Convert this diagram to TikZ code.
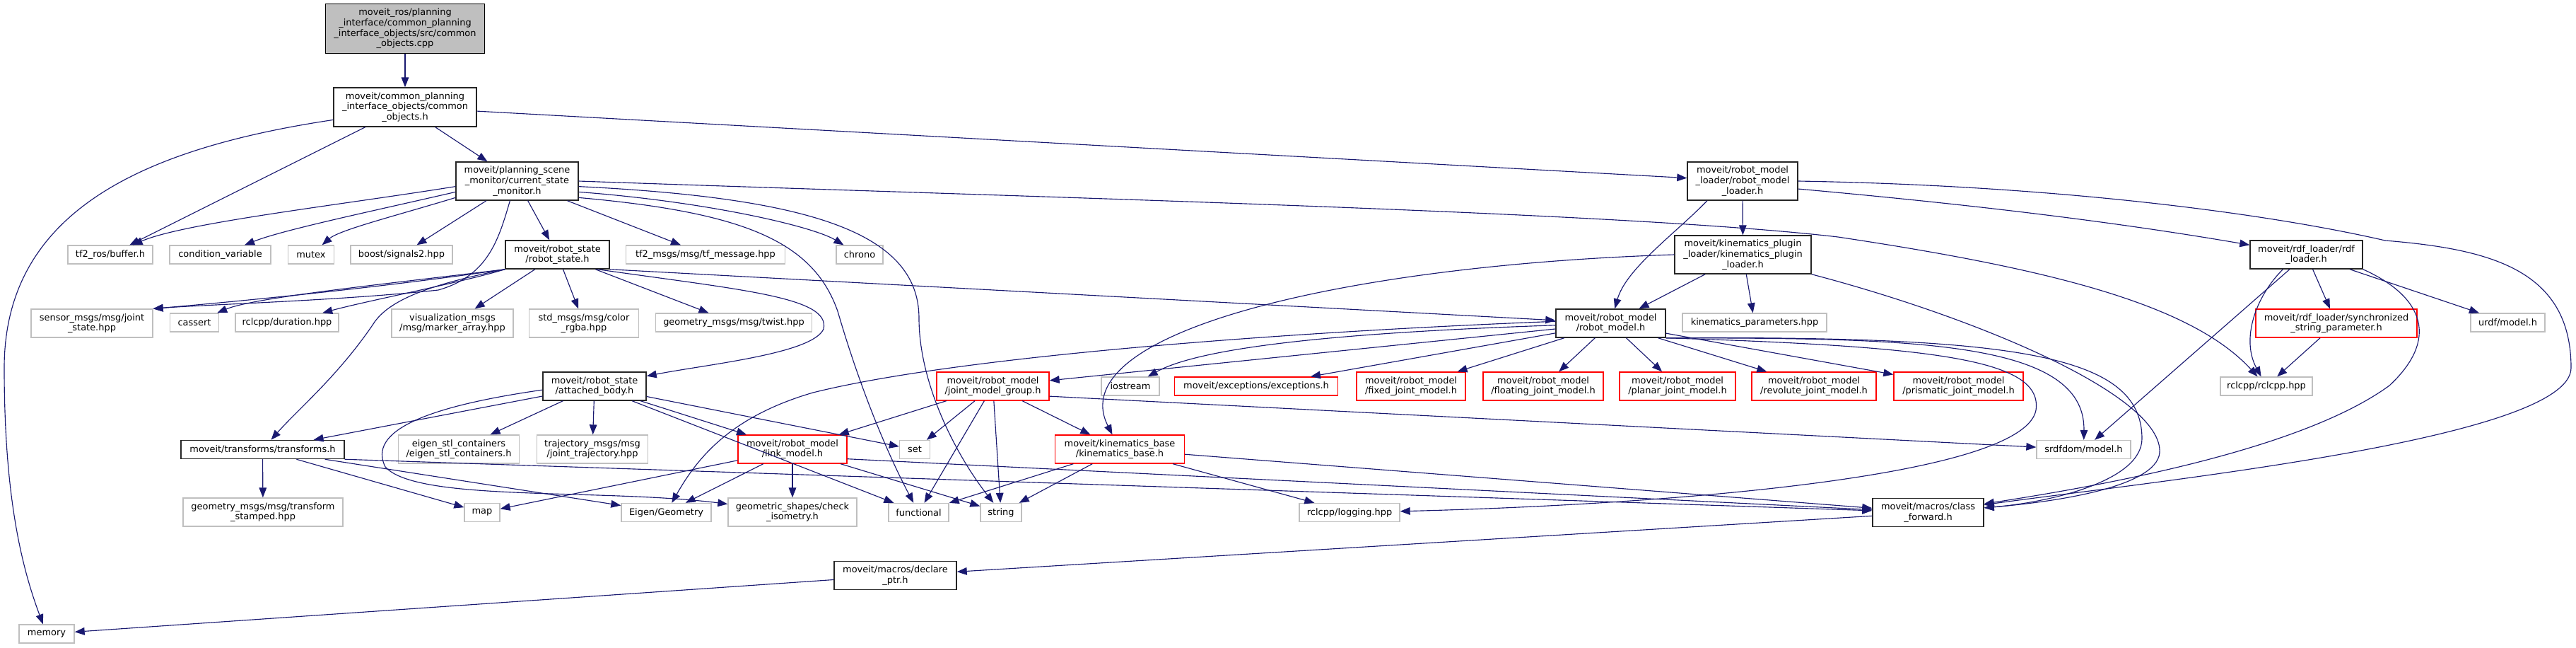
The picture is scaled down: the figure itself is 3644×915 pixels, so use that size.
\documentclass[tikz,border=0pt]{standalone}
\usepackage{fontspec}
\setmainfont{DejaVu Sans}
\usepackage{xcolor}
\usepackage{tikz}
\usetikzlibrary{arrows.meta}

\definecolor{midnight}{HTML}{191970}
\definecolor{boxgray}{HTML}{BFBFBF}
\tikzset{wh/.style 2 args={minimum width=#1*0.75pt, minimum height=#2*0.75pt}}

\begin{document}
\begin{tikzpicture}[x=0.75pt, y=-0.75pt, >={Triangle[length=10.5pt, width=8pt]},
  every node/.style={font=\fontsize{9.7}{11}\selectfont, align=center, inner sep=0pt},
  srcfile/.style={draw=black, fill=boxgray, line width=1pt},
  hdr/.style={draw=black!85, fill=white, line width=1.1pt},
  trunc/.style={draw=red, fill=white, line width=1pt},
  sysinc/.style={draw=boxgray, fill=white, line width=1pt},
  dep/.style={->, draw=midnight, line width=0.85pt}]
\useasboundingbox (0,0) rectangle (3644,915);

% Source file and its direct headers
\node[srcfile, wh={225}{70}] (root) at (573,40.5) {moveit\_ros/planning\\\_interface/common\_planning\\\_interface\_objects/src/common\\\_objects.cpp};
\node[hdr, wh={202}{55}] (coh) at (573,151.5) {moveit/common\_planning\\\_interface\_objects/common\\\_objects.h};
\node[hdr, wh={173}{54}] (csm) at (731.5,256) {moveit/planning\_scene\\\_monitor/current\_state\\\_monitor.h};
\node[hdr, wh={156}{54}] (rml) at (2465,256) {moveit/robot\_model\\\_loader/robot\_model\\\_loader.h};

% Rank 3
\node[sysinc, wh={120}{26}] (tf2buf) at (156,360) {tf2\_ros/buffer.h};
\node[sysinc, wh={143}{26}] (condvar) at (311.5,360) {condition\_variable};
\node[sysinc, wh={65}{26}] (mutex) at (440,360) {mutex};
\node[sysinc, wh={144}{26}] (signals) at (568,360) {boost/signals2.hpp};
\node[hdr, wh={147}{40}] (rstate) at (788.5,360) {moveit/robot\_state\\/robot\_state.h};
\node[sysinc, wh={225}{26}] (tfmsg) at (998,360) {tf2\_msgs/msg/tf\_message.hpp};
\node[sysinc, wh={66}{26}] (chrono) at (1216,360) {chrono};
\node[hdr, wh={193}{54}] (kpl) at (2465.5,360) {moveit/kinematics\_plugin\\\_loader/kinematics\_plugin\\\_loader.h};
\node[hdr, wh={159}{40}] (rdf) at (3262.5,360) {moveit/rdf\_loader/rdf\\\_loader.h};

% Rank 4
\node[sysinc, wh={172}{40}] (sensor) at (130,457) {sensor\_msgs/msg/joint\\\_state.hpp};
\node[sysinc, wh={69}{26}] (cassert) at (275,456) {cassert};
\node[sysinc, wh={146}{26}] (duration) at (406,456) {rclcpp/duration.hpp};
\node[sysinc, wh={172}{40}] (marker) at (640,457) {visualization\_msgs\\/msg/marker\_array.hpp};
\node[sysinc, wh={155}{40}] (color) at (826,457) {std\_msgs/msg/color\\\_rgba.hpp};
\node[sysinc, wh={221}{26}] (twist) at (1038,456) {geometry\_msgs/msg/twist.hpp};
\node[hdr, wh={155}{40}] (rmodel) at (2278.5,457) {moveit/robot\_model\\/robot\_model.h};
\node[sysinc, wh={204}{26}] (kparams) at (2482,456) {kinematics\_parameters.hpp};
\node[trunc, wh={228}{40}] (syncpar) at (3305,457) {moveit/rdf\_loader/synchronized\\\_string\_parameter.h};
\node[sysinc, wh={105}{26}] (urdf) at (3547.5,456) {urdf/model.h};

% Rank 5
\node[hdr, wh={146}{40}] (attached) at (841,546) {moveit/robot\_state\\/attached\_body.h};
\node[trunc, wh={159}{40}] (jmg) at (1404.5,546) {moveit/robot\_model\\/joint\_model\_group.h};
\node[sysinc, wh={82}{26}] (iostream) at (1599,546) {iostream};
\node[trunc, wh={231}{26}] (except) at (1777,546) {moveit/exceptions/exceptions.h};
\node[trunc, wh={154}{40}] (fixedjm) at (1996,546) {moveit/robot\_model\\/fixed\_joint\_model.h};
\node[trunc, wh={170}{40}] (floatjm) at (2183,546) {moveit/robot\_model\\/floating\_joint\_model.h};
\node[trunc, wh={164}{40}] (planarjm) at (2373,546) {moveit/robot\_model\\/planar\_joint\_model.h};
\node[trunc, wh={176}{40}] (revjm) at (2566,546) {moveit/robot\_model\\/revolute\_joint\_model.h};
\node[trunc, wh={183}{40}] (prisjm) at (2770.5,546) {moveit/robot\_model\\/prismatic\_joint\_model.h};
\node[sysinc, wh={130}{26}] (rclcpp) at (3206,546) {rclcpp/rclcpp.hpp};

% Rank 6
\node[hdr, wh={231}{26}] (transforms) at (371.5,635.5) {moveit/transforms/transforms.h};
\node[sysinc, wh={171}{40}] (eigenstl) at (649,635) {eigen\_stl\_containers\\/eigen\_stl\_containers.h};
\node[sysinc, wh={157}{40}] (traj) at (838,635) {trajectory\_msgs/msg\\/joint\_trajectory.hpp};
\node[trunc, wh={154}{40}] (link) at (1121,635) {moveit/robot\_model\\/link\_model.h};
\node[sysinc, wh={43}{26}] (set) at (1294,635.5) {set};
\node[trunc, wh={183}{40}] (kbase) at (1584,635) {moveit/kinematics\_base\\/kinematics\_base.h};
\node[sysinc, wh={133}{26}] (srdf) at (2947.5,635.5) {srdfdom/model.h};

% Rank 7
\node[sysinc, wh={226}{40}] (tstamped) at (372,724) {geometry\_msgs/msg/transform\\\_stamped.hpp};
\node[sysinc, wh={50}{26}] (map) at (682,724.5) {map};
\node[sysinc, wh={127}{26}] (eigen) at (942.5,724.5) {Eigen/Geometry};
\node[sysinc, wh={182}{40}] (isometry) at (1121,724) {geometric\_shapes/check\\\_isometry.h};
\node[sysinc, wh={85}{26}] (functional) at (1299.5,724.5) {functional};
\node[sysinc, wh={58}{26}] (string) at (1416,724.5) {string};
\node[sysinc, wh={142}{26}] (logging) at (1909,724.5) {rclcpp/logging.hpp};
\node[hdr, wh={157}{40}] (cfwd) at (2727.5,724.5) {moveit/macros/class\\\_forward.h};

% Bottom ranks
\node[hdr, wh={173}{40}] (declptr) at (1266.5,813.5) {moveit/macros/declare\\\_ptr.h};
\node[sysinc, wh={78}{26}] (memory) at (66,896) {memory};

% Edges from the source and common_objects.h
\draw[dep] (root) -- (coh);
\draw[dep] (coh) -- (csm);
\draw[dep] (coh) -- (tf2buf);
\draw[dep] (coh) -- (rml);
\draw[dep] (coh.190) .. controls (200,210) and (6,300) .. (6,520) .. controls (6,700) and (30,800) .. (memory);

% current_state_monitor.h
\draw[dep] (csm.185) .. controls (480,290) and (260,315) .. (tf2buf);
\draw[dep] (csm.190) .. controls (520,300) and (400,325) .. (condvar);
\draw[dep] (csm.195) .. controls (560,305) and (480,325) .. (mutex);
\draw[dep] (csm) -- (signals);
\draw[dep] (csm) -- (rstate);
\draw[dep] (csm) -- (tfmsg);
\draw[dep] (csm.350) .. controls (1000,285) and (1150,320) .. (chrono);
\draw[dep] (csm.250) .. controls (705,340) and (690,390) .. (620,410) .. controls (480,425) and (300,430) .. (sensor.north east);
\draw[dep] (csm.345) .. controls (1050,300) and (1150,340) .. (1185,440) .. controls (1220,560) and (1260,650) .. (functional);
\draw[dep] (csm.355) .. controls (1150,280) and (1300,330) .. (1300,450) .. controls (1300,540) and (1350,640) .. (string);
\draw[dep] (csm.east) .. controls (1500,280) and (2300,300) .. (2600,335) .. controls (2900,380) and (3100,430) .. (rclcpp);

% robot_state.h
\draw[dep] (rstate.south west) .. controls (550,405) and (350,425) .. (sensor.north east);
\draw[dep] (rstate.south west) .. controls (560,400) and (360,420) .. (cassert);
\draw[dep] (rstate.south west) .. controls (650,400) and (520,425) .. (duration);
\draw[dep] (rstate.south west) .. controls (620,400) and (555,420) .. (530,455) .. controls (480,530) and (420,580) .. (transforms);
\draw[dep] (rstate) -- (marker);
\draw[dep] (rstate) -- (color);
\draw[dep] (rstate) -- (twist);
\draw[dep] (rstate.south east) -- (rmodel);
\draw[dep] (rstate.-20) .. controls (1050,410) and (1175,420) .. (1165,465) .. controls (1150,500) and (1000,515) .. (attached);

% attached_body.h
\draw[dep] (attached) -- (transforms);
\draw[dep] (attached) -- (eigenstl);
\draw[dep] (attached) -- (traj);
\draw[dep] (attached) -- (link);
\draw[dep] (attached) -- (set);
\draw[dep] (attached) -- (functional);
\draw[dep] (attached.184) .. controls (600,575) and (520,610) .. (545,660) .. controls (590,710) and (850,690) .. (isometry);

% transforms.h
\draw[dep] (transforms) -- (tstamped);
\draw[dep] (transforms) -- (map);
\draw[dep] (transforms) -- (eigen);
\draw[dep] (transforms.south east) -- (cfwd);

% link_model.h
\draw[dep] (link) -- (map);
\draw[dep] (link) -- (eigen);
\draw[dep] (link) -- (isometry);
\draw[dep] (link) -- (string);
\draw[dep] (link.-10) -- (cfwd);

% joint_model_group.h
\draw[dep] (jmg) -- (link);
\draw[dep] (jmg) -- (set);
\draw[dep] (jmg) -- (functional);
\draw[dep] (jmg) -- (string);
\draw[dep] (jmg) -- (kbase);
\draw[dep] (jmg.-10) -- (srdf);

% kinematics_base.h
\draw[dep] (kbase) -- (functional);
\draw[dep] (kbase) -- (string);
\draw[dep] (kbase) -- (logging);
\draw[dep] (kbase) -- (cfwd);

% robot_model.h
\draw[dep] (rmodel) -- (jmg);
\draw[dep] (rmodel.182) .. controls (1900,470) and (1700,490) .. (iostream);
\draw[dep] (rmodel) -- (except);
\draw[dep] (rmodel) -- (fixedjm);
\draw[dep] (rmodel) -- (floatjm);
\draw[dep] (rmodel) -- (planarjm);
\draw[dep] (rmodel) -- (revjm);
\draw[dep] (rmodel) -- (prisjm);
\draw[dep] (rmodel.south east) .. controls (2700,478) and (2950,480) .. (srdf);
\draw[dep] (rmodel.south east) .. controls (2850,475) and (3030,500) .. (3030,620) .. controls (3030,680) and (2900,710) .. (cfwd);
\draw[dep] (rmodel.south east) .. controls (2750,490) and (2890,510) .. (2880,580) .. controls (2860,680) and (2300,715) .. (logging);
\draw[dep] (rmodel.178) .. controls (1800,470) and (1350,505) .. (1150,555) .. controls (1030,590) and (985,650) .. (eigen);

% robot_model_loader.h
\draw[dep] (rml.209) .. controls (2370,330) and (2300,380) .. (rmodel);
\draw[dep] (rml) -- (kpl);
\draw[dep] (rml.-8) .. controls (2800,290) and (3000,315) .. (rdf);
\draw[dep] (rml.east) .. controls (2900,262) and (3200,300) .. (3374,340) .. controls (3520,352) and (3637,380) .. (3637,520) .. controls (3637,620) and (3050,680) .. (cfwd);

% kinematics_plugin_loader.h
\draw[dep] (kpl) -- (rmodel);
\draw[dep] (kpl) -- (kparams);
\draw[dep] (kpl.west) .. controls (1900,375) and (1500,470) .. (kbase);
\draw[dep] (kpl.south east) .. controls (2800,450) and (3060,560) .. (3055,640) .. controls (3050,690) and (2900,710) .. (cfwd);

% rdf_loader.h
\draw[dep] (rdf) -- (syncpar);
\draw[dep] (rdf) -- (urdf);
\draw[dep] (rdf) -- (srdf);
\draw[dep] (rdf.212) .. controls (3190,420) and (3170,480) .. (rclcpp);
\draw[dep] (rdf.south east) .. controls (3430,420) and (3450,480) .. (3380,545) .. controls (3250,640) and (2950,690) .. (cfwd);
\draw[dep] (syncpar) -- (rclcpp);

% macros
\draw[dep] (cfwd) -- (declptr);
\draw[dep] (declptr) -- (memory);
\end{tikzpicture}
\end{document}
